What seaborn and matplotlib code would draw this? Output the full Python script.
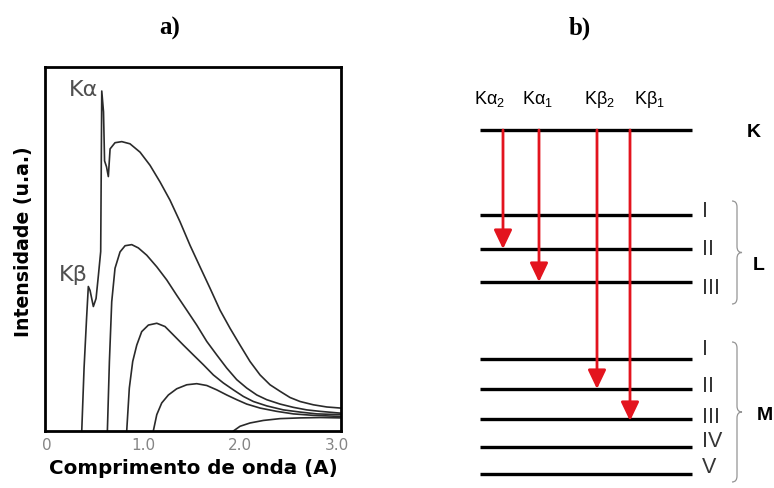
import matplotlib
matplotlib.use("Agg")
import matplotlib.pyplot as plt
import seaborn as sns
import pandas as pd
from matplotlib.path import Path
from matplotlib.patches import PathPatch
from matplotlib import font_manager

sns.set_theme(style="white")
plt.rcParams['font.family'] = ['DejaVu Sans']
plt.rcParams['mathtext.fontset'] = 'custom'
plt.rcParams['mathtext.rm'] = 'Liberation Sans'
plt.rcParams['mathtext.default'] = 'regular'

# ---------------- panel a) data ----------------
x_ticks = [0, 1.0, 2.0, 3.0]
x_tick_labels = ["0", "1.0", "2.0", "3.0"]

curve1_x = [0.362, 0.386, 0.412, 0.430, 0.448, 0.482, 0.510, 0.534, 0.558, 0.569,
            0.587, 0.598, 0.618, 0.637, 0.655, 0.706, 0.776, 0.861, 0.965, 1.068,
            1.172, 1.275, 1.378, 1.482, 1.585, 1.689, 1.792, 1.896, 1.999, 2.102,
            2.206, 2.309, 2.413, 2.516, 2.620, 2.757, 2.896, 3.040]
curve1_y = [0, 17.3, 31.0, 39.7, 38.6, 34.2, 36.4, 42.7, 49.3, 93.4,
            87.7, 74.2, 72.6, 69.9, 77.5, 79.2, 79.5, 78.9, 76.6, 73.0,
            68.4, 63.4, 57.5, 51.0, 45.1, 39.2, 33.2, 28.2, 23.6, 19.1,
            15.4, 12.7, 10.9, 9.2, 8.1, 7.2, 6.6, 6.3]

curve2_x = [0.627, 0.648, 0.672, 0.706, 0.758, 0.810, 0.879, 0.947, 1.034, 1.138,
            1.241, 1.344, 1.448, 1.551, 1.655, 1.758, 1.861, 1.965, 2.068, 2.172,
            2.275, 2.413, 2.550, 2.689, 2.826, 3.040]
curve2_y = [0, 19.1, 35.5, 44.7, 49.2, 50.9, 51.2, 50.3, 48.3, 45.1,
            41.5, 37.3, 33.2, 29.1, 24.6, 20.9, 17.3, 14.1, 11.8, 9.9,
            8.6, 7.4, 6.5, 5.8, 5.4, 4.9]

curve3_x = [0.827, 0.854, 0.889, 0.931, 0.982, 1.051, 1.138, 1.223, 1.309, 1.413,
            1.516, 1.620, 1.723, 1.826, 1.930, 2.033, 2.137, 2.275, 2.447, 2.620,
            2.792, 3.040]
curve3_y = [0, 11.8, 19.1, 23.6, 27.3, 29.1, 29.6, 28.7, 26.4, 23.6,
            20.9, 18.2, 15.4, 13.2, 11.3, 9.5, 8.1, 6.9, 5.8, 5.2,
            4.7, 4.5]

curve4_x = [1.102, 1.138, 1.189, 1.258, 1.344, 1.448, 1.551, 1.655, 1.758, 1.861,
            1.965, 2.068, 2.206, 2.378, 2.550, 2.757, 3.040]
curve4_y = [0, 4.5, 7.7, 9.9, 11.6, 12.7, 13.0, 12.5, 11.3, 9.9,
            8.6, 7.4, 6.3, 5.4, 4.7, 4.3, 4.0]

curve5_x = [1.930, 1.999, 2.102, 2.240, 2.413, 2.620, 2.826, 3.040]
curve5_y = [0, 1.3, 2.2, 2.9, 3.4, 3.6, 3.7, 3.6]

line_labels = ["Kα", "Kβ"]
line_label_x = [0.38, 0.28]
line_label_y = [94, 43]

# ---------------- panel b) data ----------------
level_names = ["K", "LI", "LII", "LIII", "MI", "MII", "MIII", "MIV", "MV"]
level_energy = [0, -85, -119, -152, -229, -259, -289, -317, -344]
level_numerals = ["", "I", "II", "III", "I", "II", "III", "IV", "V"]
level_numeral_dy = [0, 4, 0, -6, 10, 3, 2, 6, 7]

transition_labels = ["Kα$_2$", "Kα$_1$", "Kβ$_2$", "Kβ$_1$"]
transition_from = ["K", "K", "K", "K"]
transition_to = ["LII", "LIII", "MII", "MIII"]
transition_tip_dy = [0, 0, 0, -2]

shell_labels = ["K", "L", "M"]
shell_label_y = [-2, -135, -285]
shell_label_x = [314, 319, 325]
brace_spans = [(-71, -174), (-212, -352)]

# ---------------- figure ----------------
W, H = 774, 489
fig = plt.figure(figsize=(W / 100, H / 100), dpi=100)
fig.patch.set_facecolor("white")

# panel a
ax = fig.add_axes([45 / W, 1 - 432 / H, (341 - 45) / W, (432 - 68) / H])
curve_frames = []
for i, (cx, cy) in enumerate([(curve1_x, curve1_y), (curve2_x, curve2_y),
                              (curve3_x, curve3_y), (curve4_x, curve4_y),
                              (curve5_x, curve5_y)]):
    curve_frames.append(pd.DataFrame({"lam": cx, "I": cy, "curve": i}))
df = pd.concat(curve_frames, ignore_index=True)
sns.lineplot(data=df, x="lam", y="I", units="curve", estimator=None, sort=False,
             color="#2a2a2a", linewidth=1.2, ax=ax, legend=False)
ax.set_xlim(-0.018, 3.043)
ax.set_ylim(0, 100)
ax.set_xticks(x_ticks)
ax.set_xticklabels(x_tick_labels, color="#858585", fontsize=11)
ax.set_yticks([])
ax.tick_params(axis="x", length=0, pad=4)
for s in ax.spines.values():
    s.set_color("black")
    s.set_linewidth(2.0)
ax.set_xlabel("Comprimento de onda (A)", fontsize=14.3, fontweight="bold",
              color="black", labelpad=5)
ax.set_ylabel("Intensidade (u.a.)", fontsize=13.6, fontweight="bold",
              color="black")
ax.yaxis.set_label_coords(-0.04, 0.523)
for lab, lx, ly in zip(line_labels, line_label_x, line_label_y):
    ax.text(lx, ly, lab, fontsize=16, color="#505050", ha="center", va="center")

# panel b
ax2 = fig.add_axes([440 / W, 0, (W - 440) / W, 1])
ax2.set_xlim(0, W - 440)
ax2.set_ylim(-(H - 131), 131)
ax2.axis("off")

installed = {f.name for f in font_manager.fontManager.ttflist}
numeral_family = ["Liberation Sans Narrow"] if "Liberation Sans Narrow" in installed \
    else ["Liberation Sans"]
numeral_size = 17 if numeral_family[0].endswith("Narrow") else 15.5

lvl = dict(zip(level_names, level_energy))
level_x0, level_x1 = 40, 252
ax2.hlines(level_energy, level_x0, level_x1, color="black", linewidth=2.4)
for e, num, dy in zip(level_energy, level_numerals, level_numeral_dy):
    if num:
        ax2.text(262, e + dy, num, fontsize=numeral_size, color="#353535",
                 family=numeral_family, ha="left", va="center")

arrow_x = [63, 99, 157, 190]
label_x = [50, 97, 159, 209]
red = "#e3141e"
for lab, f, t, ax_x, lx, dy in zip(transition_labels, transition_from, transition_to,
                                   arrow_x, label_x, transition_tip_dy):
    ax2.annotate("", xy=(ax_x, lvl[t] + dy), xytext=(ax_x, lvl[f]),
                 arrowprops=dict(arrowstyle="-|>,head_length=1.15,head_width=0.55",
                                 color=red, lw=2.0, shrinkA=0, shrinkB=0,
                                 mutation_scale=10))
    ax2.text(lx, 27, lab, fontsize=13, color="black", family="Liberation Sans",
             ha="center", va="baseline")

for lab, x, y in zip(shell_labels, shell_label_x, shell_label_y):
    ax2.text(x, y, lab, fontsize=14, fontweight="bold", color="black",
             family="Liberation Sans", ha="center", va="center")


def brace(axis, x0, w, ytop, ybot):
    ym = (ytop + ybot) / 2
    r = 6
    xm = x0 + w / 2
    verts = [(x0, ytop), (xm, ytop), (xm, ytop - r),
             (xm, ym + r), (xm, ym), (x0 + w, ym),
             (xm, ym), (xm, ym - r),
             (xm, ybot + r), (xm, ybot), (x0, ybot)]
    codes = [Path.MOVETO, Path.CURVE3, Path.CURVE3,
             Path.LINETO, Path.CURVE3, Path.CURVE3,
             Path.CURVE3, Path.CURVE3,
             Path.LINETO, Path.CURVE3, Path.CURVE3]
    axis.add_patch(PathPatch(Path(verts, codes), facecolor="none",
                             edgecolor="#959595", lw=0.9))


for (yt, yb) in brace_spans:
    brace(ax2, 292, 10, yt, yb)

fig.text(170 / W, 1 - 28 / H, "a)", fontsize=18, fontweight="bold", color="black",
         family="Liberation Serif", ha="center", va="center")
fig.text(580 / W, 1 - 28 / H, "b)", fontsize=18, fontweight="bold", color="black",
         family="Liberation Serif", ha="center", va="center")

fig.savefig("out.png", dpi=100, facecolor="white")
